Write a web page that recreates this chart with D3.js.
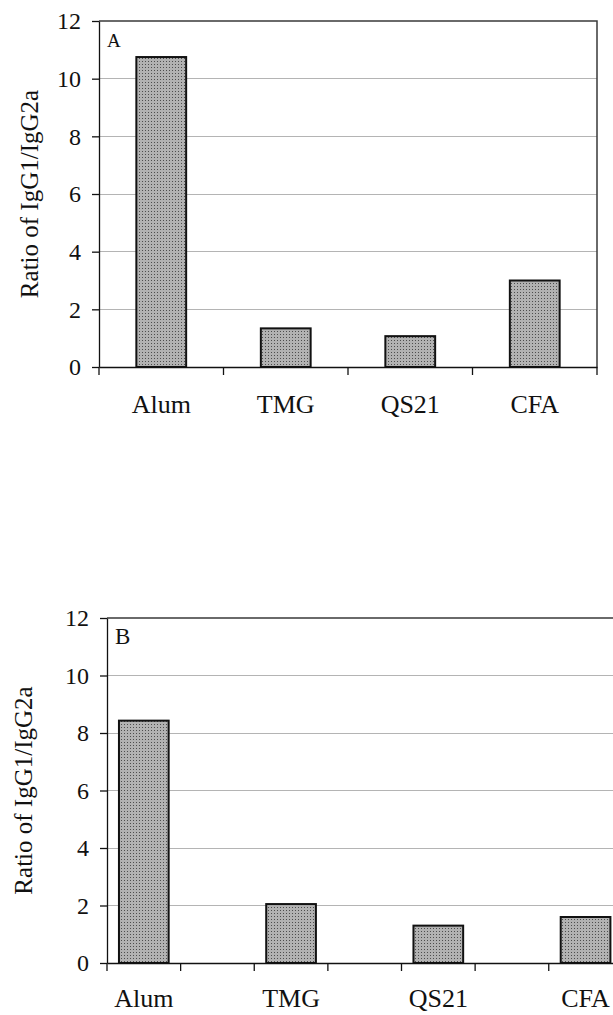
<!DOCTYPE html>
<meta charset="utf-8">
<style type="text/css">
html, body {
    margin: 0;
    background-color: #ffffff;
}
svg text {
    font-family: "Liberation Serif", "Times New Roman", serif;
    fill: #111;
}
.grid line {
    stroke: #b4b4b4;
    stroke-width: 1;
    shape-rendering: crispEdges;
}
.frame {
    fill: none;
    stroke: #3a3a3a;
    stroke-width: 1.5;
}
.axis path, .axis line {
    stroke: #111;
    stroke-width: 1.3;
}
.bar {
    fill: url(#stipple);
    stroke: #111;
    stroke-width: 2;
}
</style>
<body>
</body>

<script src="https://d3js.org/d3.v7.min.js"></script>
<script>

// data
var categories = ["Alum", "TMG", "QS21", "CFA"];
var ratioA = [10.75, 1.34, 1.07, 3.0];   // panel A
var ratioB = [8.43, 2.05, 1.3, 1.6];     // panel B
var yTicks = [0, 2, 4, 6, 8, 10, 12];
var yLabel = "Ratio of IgG1/IgG2a";

var svg = d3.select("body").append("svg")
    .attr("width", 613)
    .attr("height", 1015);

// stippled grey fill of the bars
var pat = svg.append("defs").append("pattern")
    .attr("id", "stipple")
    .attr("width", 3).attr("height", 3)
    .attr("patternUnits", "userSpaceOnUse");
pat.append("rect").attr("width", 3).attr("height", 3).attr("fill", "#b2b2b2");
pat.append("rect").attr("x", 1).attr("y", 1).attr("width", 1).attr("height", 1).attr("fill", "#4e4e4e");

function drawPanel(p, values) {
    var g = svg.append("g");

    // panel B leaves an empty slot after every bar
    var slots = p.gaps ? categories.flatMap(function(c, i) { return [c, "gap" + i]; }) : categories;

    var x = d3.scaleBand()
        .domain(slots)
        .range([p.left, p.right])
        .paddingInner(p.pad)
        .paddingOuter(p.pad / 2);

    var y = d3.scaleLinear()
        .domain([0, 12])
        .range([p.bottom, p.top]);

    // gridlines
    g.append("g")
        .attr("class", "grid")
        .selectAll("line")
        .data(yTicks.slice(1, -1))
        .enter().append("line")
        .attr("x1", p.left).attr("x2", p.right)
        .attr("y1", function(d) { return y(d); })
        .attr("y2", function(d) { return y(d); });

    // top / right frame
    g.append("path")
        .attr("class", "frame")
        .attr("d", "M" + p.left + "," + y(12) + "H" + p.right + "V" + y(0));

    // bars
    g.selectAll(".bar")
        .data(values)
        .enter().append("rect")
        .attr("class", "bar")
        .attr("x", function(d, i) { return x(categories[i]); })
        .attr("width", x.bandwidth())
        .attr("y", function(d) { return y(d); })
        .attr("height", function(d) { return y(0) - y(d); });

    // y axis
    var ya = g.append("g")
        .attr("class", "axis")
        .attr("transform", "translate(" + p.left + ",0)")
        .call(d3.axisLeft(y).tickValues(yTicks).tickSize(7).tickSizeOuter(0).tickPadding(11));
    ya.selectAll("text").style("font-size", "24px");

    // x axis: labels under bars
    var xa = g.append("g")
        .attr("class", "axis")
        .attr("transform", "translate(0," + p.bottom + ")")
        .call(d3.axisBottom(x).tickValues(categories).tickSize(0).tickPadding(p.labelGap));
    xa.selectAll("text").style("font-size", "26px");

    // x tick marks on slot boundaries
    g.append("g")
        .attr("class", "axis")
        .selectAll("line")
        .data(d3.range(slots.length + 1))
        .enter().append("line")
        .attr("x1", function(i) { return p.left + i * x.step(); })
        .attr("x2", function(i) { return p.left + i * x.step(); })
        .attr("y1", p.bottom)
        .attr("y2", p.bottom + 8);

    // panel letter
    g.append("text")
        .attr("x", p.left + 8)
        .attr("y", y(12) + 26)
        .style("font-size", p.letterSize + "px")
        .text(p.letter);

    // y axis title
    g.append("text")
        .attr("transform", "translate(" + p.titleX + "," + (p.top + p.bottom) / 2 + ") rotate(-90)")
        .attr("text-anchor", "middle")
        .attr("dy", "0.35em")
        .style("font-size", "25px")
        .text(yLabel);
}

drawPanel({letter: "A", letterSize: 19, left: 99, right: 597, top: 21, bottom: 367,
           pad: 0.6, gaps: false, labelGap: 28, titleX: 29}, ratioA);

drawPanel({letter: "B", letterSize: 23, left: 107, right: 696, top: 618, bottom: 963,
           pad: 0.325, gaps: true, labelGap: 26, titleX: 23}, ratioB);

</script>
